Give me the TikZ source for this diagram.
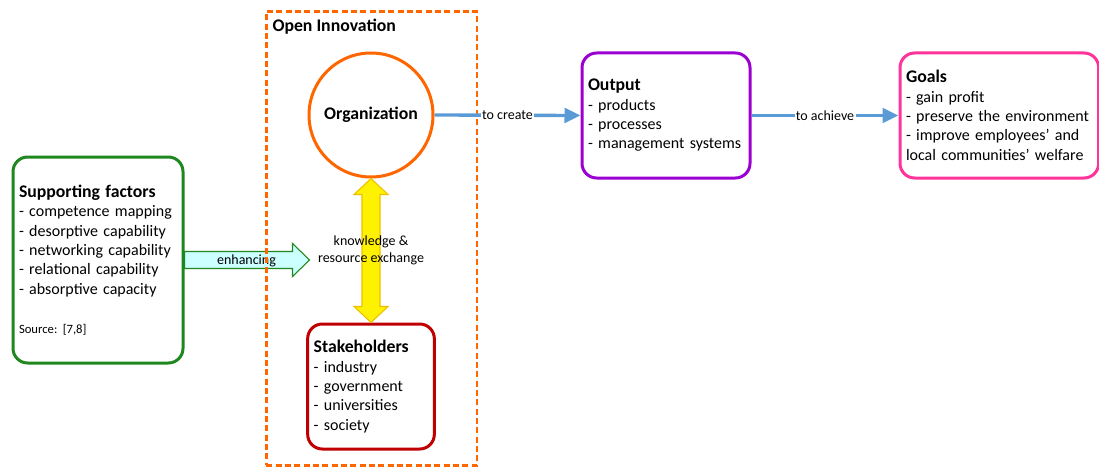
\documentclass[tikz,border=0pt]{standalone}
\usepackage{fontspec}
\setmainfont{Carlito}
\usetikzlibrary{positioning}
\usetikzlibrary{calc}
\usetikzlibrary{arrows.meta}
\definecolor{supgreen}{RGB}{30,135,30}
\definecolor{innorange}{RGB}{255,102,0}
\definecolor{stakered}{RGB}{192,0,0}
\definecolor{outpurple}{RGB}{155,0,210}
\definecolor{goalpink}{RGB}{255,51,153}
\definecolor{flowblue}{RGB}{91,155,213}
\definecolor{enhcyan}{RGB}{204,255,255}
\definecolor{exchborder}{RGB}{240,190,0}
\frenchspacing
\newcommand{\boxtitle}[1]{{\fontsize{13.3}{14.5}\selectfont\bfseries #1}}
\tikzstyle{box}=[draw,rectangle,rounded corners=11pt,line width=2.25pt,align=left,inner xsep=4.5pt,font=\fontsize{12}{14.5}\selectfont]
\tikzstyle{flow}=[draw=flowblue,line width=2.5pt,-{Triangle[length=12pt,width=11pt]}]
\tikzstyle{small}=[font=\fontsize{10.5}{12.5}\selectfont]
\tikzstyle{flowlabel}=[small,fill=white,inner sep=1pt]

\begin{document}
\begin{tikzpicture}
	[x=0.75pt,y=-0.75pt]
	\useasboundingbox (0,0) rectangle (1099,467);
	% left: supporting factors
	\node (sup) [box,draw=supgreen,minimum width=127.5pt,minimum height=154.5pt,text width=118.5pt] at (98,260)
		{\boxtitle{Supporting factors}\\- competence mapping\\- desorptive capability\\- networking capability\\- relational capability\\- absorptive capacity\\[15pt]{\fontsize{9.5}{11.5}\selectfont Source: [7,8]}};
	\draw[draw=supgreen,fill=enhcyan,line width=0.8pt] ($(sup.east)+(0,-8.5)$) -- ++(108,0) -- ++(0,-8) -- ++(17,16.5) -- ++(-17,16.5) -- ++(0,-8) -- ++(-108,0) -- cycle;
	\node[small] at ($(sup.east)+(62,1)$) {enhancing};
	% open innovation frame
	\node (oi) [draw=innorange,line width=2pt,dash pattern=on 4.5pt off 2.5pt,minimum width=158pt,minimum height=340pt] at (371.5,238.5) {};
	\node[anchor=west] at ($(oi.north west)+(3,16)$) {\boxtitle{Open Innovation}};
	\node (org) [draw=innorange,circle,line width=2.25pt,minimum size=93pt] at (371,115) {\boxtitle{Organization}};
	\node (stake) [box,draw=stakered,minimum width=95pt,minimum height=93.75pt,text width=86pt,below=108pt of org]
		{\boxtitle{Stakeholders}\\- industry\\- government\\- universities\\- society};
	\draw[draw=exchborder,fill=yellow,line width=0.8pt] (org.south) -- ($(org.south)+(17,16)$) -- ($(org.south)+(9,16)$)
		-- ($(stake.north)+(9,-16)$) -- ($(stake.north)+(17,-16)$) -- (stake.north) -- ($(stake.north)+(-17,-16)$)
		-- ($(stake.north)+(-9,-16)$) -- ($(org.south)+(-9,16)$) -- ($(org.south)+(-17,16)$) -- cycle;
	\node[small,align=center] at ($(org.south)!0.5!(stake.north)$) {knowledge \&\\resource exchange};
	% right: output and goals
	\node (out) [box,draw=outpurple,minimum width=126pt,minimum height=93.75pt,text width=117pt] at (666,115.5)
		{\boxtitle{Output}\\- products\\- processes\\- management systems};
	\node (goals) [box,draw=goalpink,minimum width=149pt,minimum height=93.75pt,text width=140pt,right=110.25pt of out]
		{\boxtitle{Goals}\\- gain profit\\- preserve the environment\\- improve employees’ and\\local communities’ welfare};
	\draw[flow] (org.east) -- node[flowlabel] {to create} (out.west);
	\draw[flow] (out.east) -- node[flowlabel] {to achieve} (goals.west);
\end{tikzpicture}
\end{document}
